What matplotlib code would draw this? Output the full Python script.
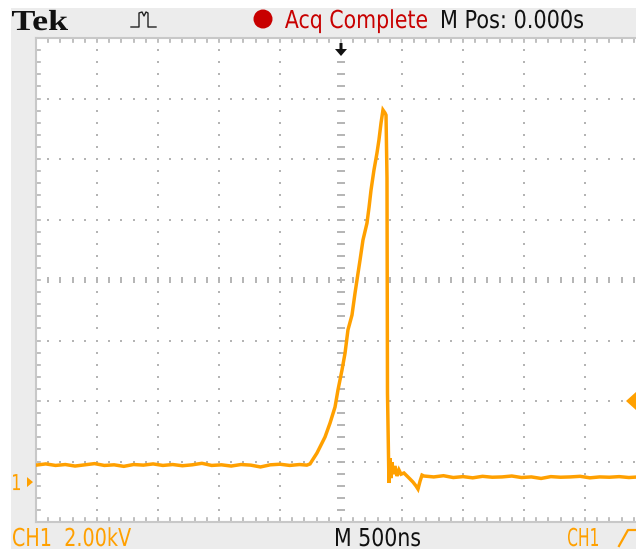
import numpy as np
import matplotlib
matplotlib.use("Agg")
import matplotlib.pyplot as plt
from matplotlib.patches import Rectangle, Polygon, Ellipse, PathPatch
from matplotlib.lines import Line2D
from matplotlib.textpath import TextPath
from matplotlib.font_manager import FontProperties
from matplotlib.transforms import Affine2D

# ---- acquisition data (CH1, 2.00 kV/div, 500 ns/div) ----
time_ns = [
    -2500, -2420, -2340, -2260, -2180, -2100, -2020, -1940, -1860, -1780,
    -1700, -1620, -1540, -1460, -1380, -1300, -1220, -1140, -1060, -980,
    -900, -820, -740, -660, -580, -500, -420, -340, -280,
    -254, -197, -131, -90, -49, -25, 8, 33, 57, 90, 115, 131, 156, 180,
    213, 230, 246, 270, 295, 311, 328, 344, 361, 369, 377, 381, 393,
    402, 410, 418, 426, 443, 459, 475, 492, 516, 541, 566, 590, 615, 631,
    648, 664,
    680, 760, 840, 920, 1000, 1080, 1160, 1240, 1320, 1400, 1480, 1560,
    1640, 1720, 1800, 1880, 1960, 2040, 2120, 2200, 2280, 2360, 2440,
]
volts_kv = [
    0.56, 0.60, 0.55, 0.58, 0.53, 0.57, 0.61, 0.55, 0.57, 0.52,
    0.58, 0.56, 0.60, 0.55, 0.58, 0.54, 0.57, 0.62, 0.55, 0.57,
    0.53, 0.58, 0.56, 0.50, 0.57, 0.59, 0.55, 0.58, 0.56,
    0.60, 0.96, 1.49, 1.95, 2.48, 3.04, 3.70, 4.26, 5.03, 5.52, 6.25, 6.68, 7.34, 8.00,
    8.56, 9.09, 9.65, 10.31, 10.88, 11.31, 11.87, 12.30, 12.20, 12.13, 10.05, 2.94, -0.03,
    0.79, 0.13, 0.66, 0.26, 0.53, 0.20, 0.40, 0.26, 0.30, 0.20, 0.10, 0.00, -0.13, -0.23,
    0.03, 0.23,
    0.20, 0.17, 0.21, 0.15, 0.18, 0.14, 0.19, 0.16, 0.17, 0.20, 0.15, 0.17,
    0.12, 0.18, 0.16, 0.17, 0.19, 0.14, 0.17, 0.16, 0.18, 0.15, 0.17,
]

VOLTS_PER_DIV = 2.0      # kV
TIME_PER_DIV = 500.0     # ns
GROUND_DIV = -3.34       # CH1 ground reference position (divisions)
TRIG_LEVEL_DIV = -2.0    # trigger level marker position (divisions)

W, H = 636, 549
ORANGE = "#ffa000"
GRID = "#b4b4b4"
BG = "#ececec"
RED = "#c80000"
INK = "#111111"

fig = plt.figure(figsize=(W / 100, H / 100), dpi=100, facecolor="white")
to_fig = Affine2D().scale(1 / W, 1 / H) + fig.transFigure


def fx(x):
    return x / W


def fy(y):
    return 1 - y / H


def screen_text(s, x0, x1, cap_top, baseline, color, family="DejaVu Sans", weight="normal"):
    """Readout text fitted to a pixel box (narrow instrument font)."""
    fp = FontProperties(family=family, weight=weight)
    path = TextPath((0, 0), s, size=100, prop=fp)
    ext = path.get_extents()
    cap = TextPath((0, 0), "H", size=100, prop=fp).get_extents().y1
    sx = (x1 - x0) / ext.width
    sy = (baseline - cap_top) / cap
    tr = Affine2D().translate(-ext.x0, 0).scale(sx, sy).translate(x0, H - baseline)
    fig.patches.append(PathPatch(tr.transform_path(path), transform=to_fig,
                                 facecolor=color, edgecolor="none", lw=0, zorder=5))


# instrument bezel background
fig.patches.append(Rectangle((fx(11), 0), 1 - fx(11), fy(8), transform=fig.transFigure,
                             facecolor=BG, edgecolor="none", zorder=-10))

# graticule area: 10 x 8 divisions, right edge runs off the screen
left, right, top, bottom = 36, 636, 38, 522
div_px = 61.0
vdiv_px = (bottom - top) / 8
ax = fig.add_axes([fx(left), fy(bottom), (right - left) / W, (bottom - top) / H])
ax.set_facecolor("white")
ax.set_xlim(-5, -5 + (right - left) / div_px)
ax.set_ylim(-4, 4)
ax.set_xticks([])
ax.set_yticks([])
for side in ["left", "top", "bottom"]:
    ax.spines[side].set_color("#c8c8c8")
    ax.spines[side].set_linewidth(1.5)
ax.spines["right"].set_visible(False)

minor_x = np.round(np.arange(-5, 5.01, 0.2), 3)
minor_y = np.round(np.arange(-4, 4.01, 0.2), 3)

# dotted major lines
dx, dy = [], []
for gx in range(-4, 5):
    if gx == 0:
        continue
    for my in minor_y[1:-1]:
        dx.append(gx); dy.append(my)
for gy in range(-3, 4):
    if gy == 0:
        continue
    for mx in minor_x[1:-1]:
        dx.append(mx); dy.append(gy)
ax.scatter(dx, dy, s=2.2, marker="s", color=GRID, linewidths=0, zorder=1)

# centre crosshair with minor tick dashes
for my in minor_y[1:-1]:
    ax.plot([-0.06, 0.06], [my, my], color=GRID, lw=1.4, solid_capstyle="butt", zorder=1)
for mx in minor_x[1:-1]:
    ax.plot([mx, mx], [-0.05, 0.05], color=GRID, lw=1.4, solid_capstyle="butt", zorder=1)

# border ticks
for mx in minor_x[1:-1]:
    ax.plot([mx, mx], [4, 3.93], color=GRID, lw=1.2, zorder=1)
    ax.plot([mx, mx], [-4, -3.93], color=GRID, lw=1.2, zorder=1)
for my in minor_y[1:-1]:
    ax.plot([-5, -4.93], [my, my], color=GRID, lw=1.2, zorder=1)

# waveform
xs = np.array(time_ns) / TIME_PER_DIV
ys = np.array(volts_kv) / VOLTS_PER_DIV + GROUND_DIV
ax.plot(xs, ys, color=ORANGE, lw=2.5, solid_joinstyle="miter", zorder=3)

# ---- top status bar ----
screen_text("Tek", 12, 68, 11, 30, INK, family="Liberation Serif", weight="bold")
pulse = [(131, 27), (138, 27), (139, 27), (139, 13), (142, 12), (144, 16), (146, 12),
         (148, 13), (148, 27), (156, 27)]
fig.lines.append(Line2D([fx(p[0]) for p in pulse], [fy(p[1]) for p in pulse],
                        transform=fig.transFigure, color="#222222", lw=1.0))
fig.patches.append(Ellipse((fx(263), fy(19)), 19 / W, 19 / H, transform=fig.transFigure,
                           facecolor=RED, edgecolor="none"))
screen_text("Acq Complete", 285, 427, 10, 28, RED)
screen_text("M Pos: 0.000s", 442, 583, 10, 28, INK)

# trigger position arrow
arrow = [(339.5, 43), (342.5, 43), (342.5, 49), (347, 49), (341, 56), (335, 49), (339.5, 49)]
fig.patches.append(Polygon([(fx(a), fy(b)) for a, b in arrow], closed=True,
                           transform=fig.transFigure, facecolor=INK, edgecolor="none"))

# ---- bottom readout ----
screen_text("CH1  2.00kV", 13, 131, 528, 546, ORANGE)
screen_text("M 500ns", 336, 420, 528, 546, INK)
screen_text("CH1", 568, 598, 528, 546, ORANGE)
slope = [(619, 546), (628, 530), (636, 530)]
fig.lines.append(Line2D([fx(p[0]) for p in slope], [fy(p[1]) for p in slope],
                        transform=fig.transFigure, color=ORANGE, lw=1.6))

# channel ground marker
gy_px = 280 - GROUND_DIV * vdiv_px
screen_text("1", 13, 20, gy_px - 8, gy_px + 8, ORANGE)
gm = [(27, gy_px - 5), (33, gy_px), (27, gy_px + 5)]
fig.patches.append(Polygon([(fx(a), fy(b)) for a, b in gm], closed=True,
                           transform=fig.transFigure, facecolor=ORANGE, edgecolor="none"))

# trigger level marker on right edge
ty_px = 280 - TRIG_LEVEL_DIV * vdiv_px
tm = [(626, ty_px), (636, ty_px - 9), (636, ty_px + 9)]
fig.patches.append(Polygon([(fx(a), fy(b)) for a, b in tm], closed=True,
                           transform=fig.transFigure, facecolor=ORANGE, edgecolor="none"))

fig.savefig("out.png", dpi=100, facecolor=fig.get_facecolor())
